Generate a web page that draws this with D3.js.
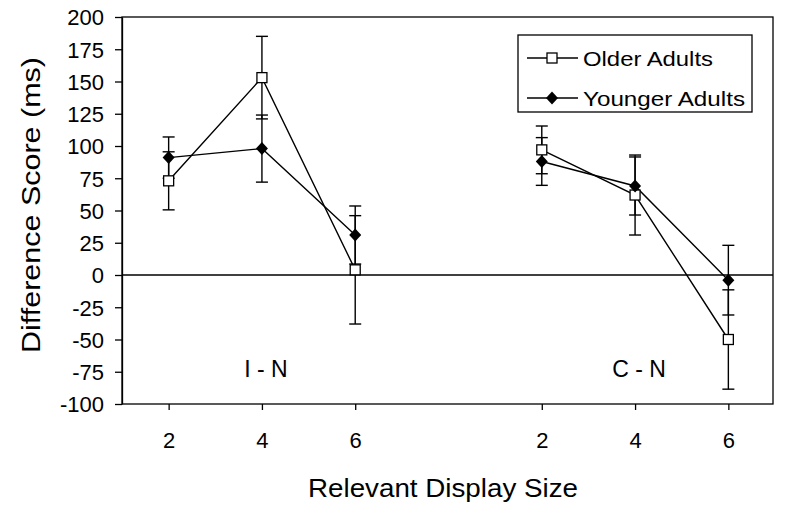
<!DOCTYPE html>
<html>
<head>
<meta charset="utf-8">
<script src="https://d3js.org/d3.v7.min.js"></script>
<style>
body {margin: 0; background: white;}
svg {font-family: "Liberation Sans", Arial, sans-serif;}
.axis path, .axis line {stroke: black; stroke-width: 1.3;}
</style>
</head>
<body>
<svg width=800 height=515></svg>
<script>
// conditions and display sizes
var conditions = ["I - N", "C - N"];
var sizes = [2, 4, 6];
var yTicks = [-100, -75, -50, -25, 0, 25, 50, 75, 100, 125, 150, 175, 200];

// difference scores (ms), order: I-N 2,4,6 then C-N 2,4,6
var older = [73, 153, 4, 97, 62, -50];
var olderErr = [22.5, 32, 42, 18.5, 31, 38.5];
var younger = [91, 98, 31, 88, 69, -4];
var youngerErr = [16, 26, 22.5, 18.5, 22.5, 27];

var seriesNames = ["Older Adults", "Younger Adults"];

var svg = d3.select("svg");
var pLeft = 122, pRight = 773, pTop = 17, pBottom = 404;

// slot keys, with an empty slot between the two conditions
var keys = [];
conditions.forEach(function(c, i) {
    if (i > 0) keys.push("gap");
    sizes.forEach(function(s) { keys.push(c + "|" + s); });
});
var pointKeys = keys.filter(function(k) { return k != "gap"; });

var x = d3.scalePoint().domain(keys).range([pLeft, pRight + 2]).padding(0.5);
var y = d3.scaleLinear().domain([-100, 200]).range([pBottom, pTop]);

// frame
svg.append("rect")
    .attr("x", pLeft).attr("y", pTop)
    .attr("width", pRight - pLeft).attr("height", pBottom - pTop)
    .attr("fill", "none").attr("stroke", "black").attr("stroke-width", 1.3);

// y axis
var yAxis = svg.append("g").attr("class", "axis")
    .attr("transform", "translate(" + pLeft + ",0)")
    .call(d3.axisLeft(y).tickValues(yTicks).tickSize(7).tickPadding(11).tickSizeOuter(0)
        .tickFormat(String));
yAxis.attr("font-size", 22).attr("font-family", null);
yAxis.selectAll("text").attr("dy", "0.36em").attr("fill", "black");

// x axis
var xAxis = svg.append("g").attr("class", "axis")
    .attr("transform", "translate(0," + pBottom + ")")
    .call(d3.axisBottom(x).tickValues(pointKeys).tickSize(6).tickPadding(22).tickSizeOuter(0)
        .tickFormat(function(k) { return k.split("|")[1]; }));
xAxis.attr("font-size", 22).attr("font-family", null);
xAxis.select(".domain").remove();
xAxis.selectAll("text").attr("dy", "0.72em").attr("fill", "black");

// zero line
svg.append("line")
    .attr("x1", pLeft).attr("x2", pRight)
    .attr("y1", y(0)).attr("y2", y(0))
    .attr("stroke", "black").attr("stroke-width", 1.3);

// axis titles
svg.append("text")
    .attr("transform", "translate(40,205) rotate(-90)")
    .attr("text-anchor", "middle")
    .attr("font-size", 25)
    .attr("textLength", 296).attr("lengthAdjust", "spacingAndGlyphs")
    .text("Difference Score (ms)");

svg.append("text")
    .attr("x", 443).attr("y", 497)
    .attr("text-anchor", "middle")
    .attr("font-size", 26)
    .attr("textLength", 270).attr("lengthAdjust", "spacingAndGlyphs")
    .text("Relevant Display Size");

// condition labels
conditions.forEach(function(c) {
    svg.append("text")
        .attr("x", x(c + "|4") + 4).attr("y", 377)
        .attr("text-anchor", "middle")
        .attr("font-size", 23)
        .text(c);
});

var series = [
    {name: seriesNames[0], vals: older, err: olderErr, shape: "square"},
    {name: seriesNames[1], vals: younger, err: youngerErr, shape: "diamond"}
];

function pts(s, c) {
    return sizes.map(function(sz, j) {
        var i = conditions.indexOf(c) * sizes.length + j;
        return {k: c + "|" + sz, v: s.vals[i], e: s.err[i]};
    });
}

var line = d3.line().x(function(d) { return x(d.k); }).y(function(d) { return y(d.v); });

// error bars
series.forEach(function(s) {
    conditions.forEach(function(c) {
        var g = svg.append("g").attr("stroke", "black").attr("stroke-width", 1.4);
        pts(s, c).forEach(function(d) {
            var cx = x(d.k);
            g.append("line").attr("x1", cx).attr("x2", cx)
                .attr("y1", y(d.v - d.e)).attr("y2", y(d.v + d.e));
            [d.v - d.e, d.v + d.e].forEach(function(v) {
                g.append("line").attr("x1", cx - 6).attr("x2", cx + 6)
                    .attr("y1", y(v)).attr("y2", y(v));
            });
        });
    });
});

// lines
series.forEach(function(s) {
    conditions.forEach(function(c) {
        svg.append("path").datum(pts(s, c))
            .attr("d", line)
            .attr("fill", "none").attr("stroke", "black").attr("stroke-width", 1.4);
    });
});

function marker(g, shape, cx, cy) {
    if (shape == "square") {
        g.append("rect").attr("x", cx - 5).attr("y", cy - 5)
            .attr("width", 10).attr("height", 10)
            .attr("fill", "white").attr("stroke", "black").attr("stroke-width", 1.3);
    } else {
        g.append("path")
            .attr("d", "M0,-6.5L6,0L0,6.5L-6,0Z")
            .attr("transform", "translate(" + cx + "," + cy + ")")
            .attr("fill", "black");
    }
}

// markers
series.forEach(function(s) {
    var g = svg.append("g");
    conditions.forEach(function(c) {
        pts(s, c).forEach(function(d) { marker(g, s.shape, x(d.k), y(d.v)); });
    });
});

// legend
var lg = svg.append("g");
lg.append("rect").attr("x", 518).attr("y", 35).attr("width", 234).attr("height", 77)
    .attr("fill", "white").attr("stroke", "black").attr("stroke-width", 1.3);
series.forEach(function(s, i) {
    var ly = 58 + i * 40;
    lg.append("line").attr("x1", 527).attr("x2", 578).attr("y1", ly).attr("y2", ly)
        .attr("stroke", "black").attr("stroke-width", 1.4);
    marker(lg, s.shape, 552, ly);
    lg.append("text").attr("x", 583).attr("y", ly + 7.5)
        .attr("font-size", 21)
        .attr("textLength", i == 0 ? 130 : 162).attr("lengthAdjust", "spacingAndGlyphs")
        .text(s.name);
});
</script>
</body>
</html>
